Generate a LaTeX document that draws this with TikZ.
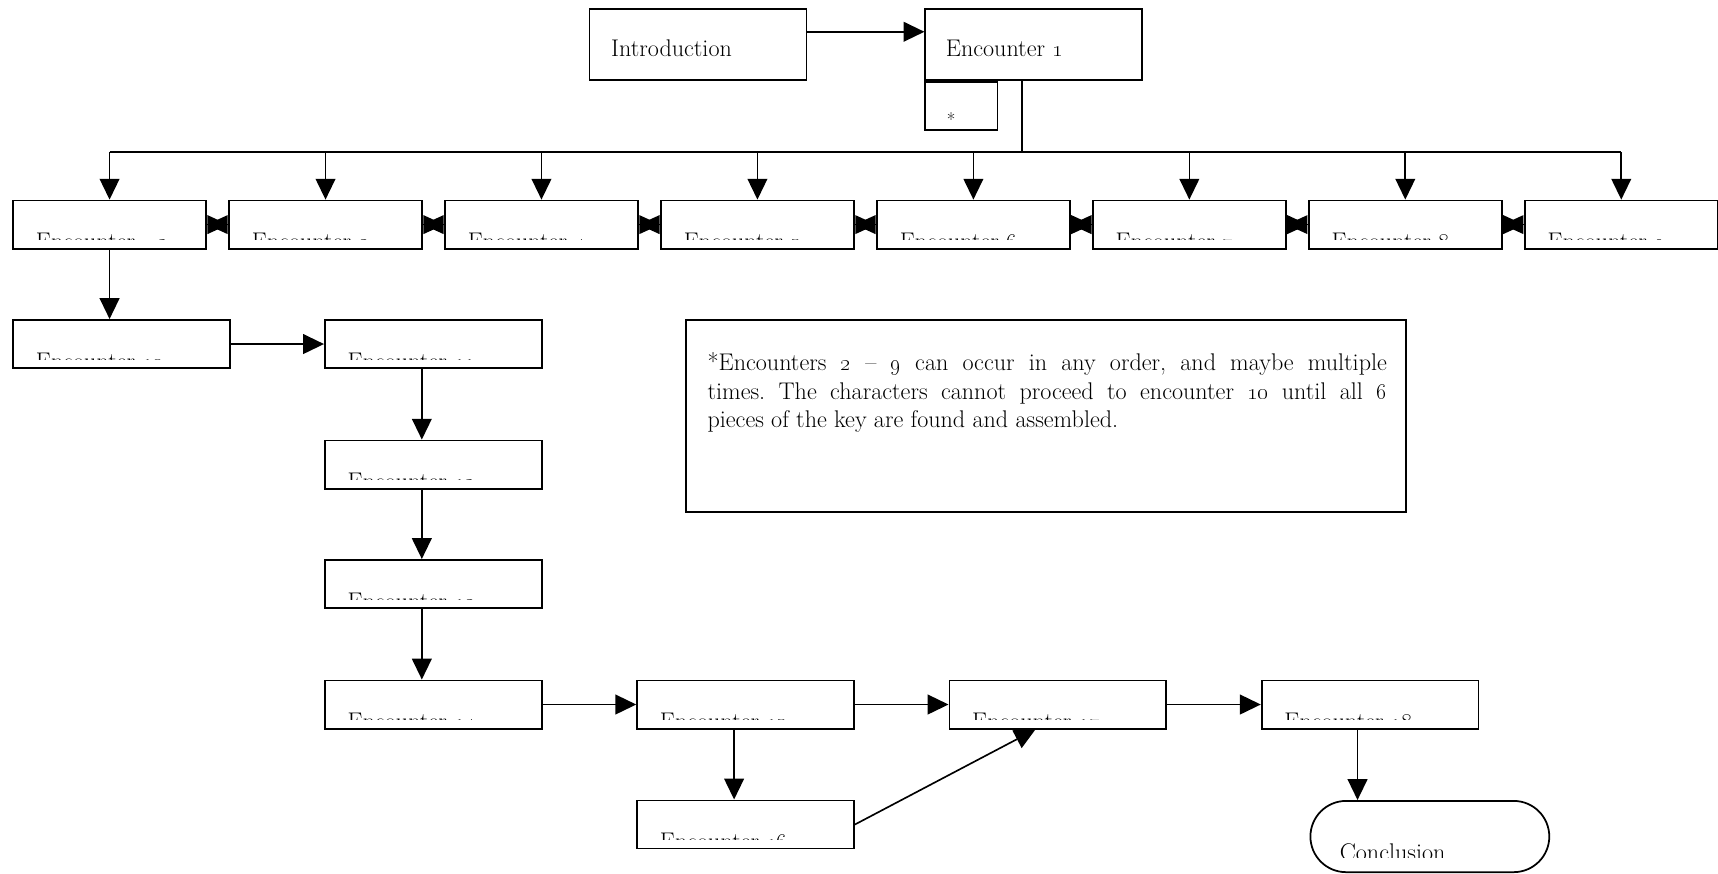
\documentclass[tikz,border=0pt]{standalone}
\usepackage{tikz}
\usetikzlibrary{arrows.meta,shapes.misc}

\tikzset{
  encbox/.style={draw, line width=1.6pt, minimum width=198pt, minimum height=44pt, inner sep=0pt},
  rowbox/.style={encbox, minimum width=176pt},
  plain/.style={rectangle, draw=none, minimum width=0pt, minimum height=0pt, inner sep=0pt},
  % text placed from the lower left corner of a box
  tag/.style n args={3}{path picture={
      \node[plain, anchor=base west] at ([xshift=#1,yshift=#2]path picture bounding box.south west) {#3};}},
  % text cut off by the lower edge of the text area
  hidtext/.style n args={4}{path picture={
      \clip ([yshift=#1]path picture bounding box.south west) rectangle (path picture bounding box.north east);
      \node[plain, anchor=base west] at ([xshift=#2,yshift=#3]path picture bounding box.south west) {#4};}},
  arr/.style={-{Triangle[length=19pt,width=18pt]}, line width=1.5pt},
  halfway/.style={-{Triangle[length=19pt,width=17pt]}, line width=1.5pt},
}

\begin{document}
\frenchspacing
\begin{tikzpicture}[x=1pt, y=-1pt, font=\fontsize{22}{26}\selectfont]
        \useasboundingbox (0,0) rectangle (1568,797);

        % top line
        \node[encbox, minimum height=65pt, tag={19pt}{21pt}{Introduction}] (intro) at (637,40.5) {};
        \node[encbox, minimum height=65pt, tag={18pt}{21pt}{Encounter \oldstylenums{1}}] (enc1) at (943.5,40.5) {};
        \node[encbox, minimum width=66pt, anchor=north west,
              tag={19pt}{3pt}{\fontsize{17}{19}\selectfont *}] (star) at (enc1.south west) {};
        \draw[arr] ([yshift=11.5pt]intro.east) -- ([yshift=11.5pt]enc1.west);

        % encounters 2 to 9
        \node[rowbox, hidtext={8pt}{20pt}{-1pt}{Encounter\hspace{20pt}\oldstylenums{2}}] (e2) at (100,205) {};
        \foreach \i in {3,...,9}{
          \node[rowbox, hidtext={8pt}{20pt}{-1pt}{Encounter \oldstylenums{\i}}] (e\i) at (100+197.1*\i-394.2,205) {};
        }
        \coordinate (bus) at (933,139);
        \draw[line width=1.5pt] ([xshift=-10.5pt]enc1.south) -- (bus);
        \draw[line width=1.5pt] (e2.north |- bus) -- (e9.north |- bus);
        \foreach \i in {2,...,9}{
          \draw[arr] (e\i.north |- bus) -- (e\i.north);
        }
        \foreach \i/\j in {2/3, 3/4, 4/5, 5/6, 6/7, 7/8, 8/9}{
          \draw[halfway] (e\j.west) -- (e\i.east);
          \draw[halfway] (e\i.east) -- (e\j.west);
        }

        % encounters 10 to 18
        \node[encbox, hidtext={8pt}{20pt}{-1pt}{Encounter \oldstylenums{10}}] (e10) at (111,314) {};
        \node[encbox, hidtext={8pt}{20pt}{-1pt}{Encounter \oldstylenums{11}}] (e11) at (395.5,314) {};
        \node[encbox, hidtext={8pt}{20pt}{-1pt}{Encounter \oldstylenums{12}}] (e12) at (395.5,424) {};
        \node[encbox, hidtext={8pt}{20pt}{-1pt}{Encounter \oldstylenums{13}}] (e13) at (395.5,533) {};
        \node[encbox, hidtext={8pt}{20pt}{-1pt}{Encounter \oldstylenums{14}}] (e14) at (395.5,643) {};
        \node[encbox, hidtext={8pt}{20pt}{-1pt}{Encounter \oldstylenums{15}}] (e15) at (680.5,643) {};
        \node[encbox, hidtext={8pt}{20pt}{-1pt}{Encounter \oldstylenums{16}}] (e16) at (680.5,752.5) {};
        \node[encbox, hidtext={8pt}{20pt}{-1pt}{Encounter \oldstylenums{17}}] (e17) at (965.5,643) {};
        \node[encbox, hidtext={8pt}{20pt}{-1pt}{Encounter \oldstylenums{18}}] (e18) at (1250.5,643) {};
        \node[draw, line width=1.6pt, rounded rectangle, minimum width=218pt, minimum height=65pt, inner sep=0pt,
              hidtext={13.5pt}{26pt}{11pt}{Conclusion}] (concl) at (1305,763.5) {};

        \draw[arr] (e2.south) -- (e2.south |- e10.north);
        \draw[arr] (e10) -- (e11);
        \foreach \a/\b in {e11/e12, e12/e13, e13/e14, e15/e16}{
          \draw[arr] ([xshift=-10.5pt]\a.south) -- ([xshift=-10.5pt]\b.north);
        }
        \draw[arr] (e14) -- (e15);
        \draw[arr] (e15) -- (e17);
        \draw[arr] (e17) -- (e18);
        \draw[arr] (e16.east) -- ([xshift=-20.5pt]e17.south);
        \draw[arr] ([xshift=-11.5pt]e18.south) -- ([xshift=-11.5pt]e18.south |- concl.north);

        % note
        \node[draw, line width=1.6pt, minimum width=657pt, minimum height=175pt, inner sep=0pt,
              path picture={\node[plain, anchor=north west, text width=620pt, align=justify]
                at ([xshift=19pt,yshift=-29pt]path picture bounding box.north west)
                {*Encounters \oldstylenums{2} -- \oldstylenums{9} can occur in any order, and maybe multiple\linebreak
                 times. The characters cannot proceed to encounter \oldstylenums{10} until all \oldstylenums{6}\linebreak
                 pieces of the key are found and assembled.};}] (note) at (954.5,379.5) {};
      \end{tikzpicture}
\end{document}
